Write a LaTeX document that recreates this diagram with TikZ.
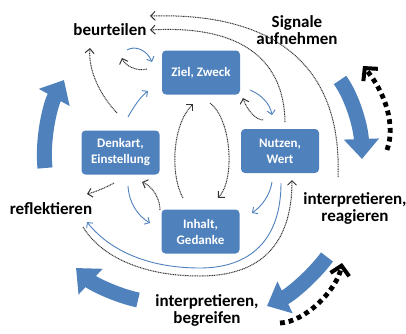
\documentclass[tikz,border=0pt]{standalone}
\usepackage{fontspec}
\setmainfont{Carlito}
\usetikzlibrary{arrows.meta}
\definecolor{boxblue}{RGB}{79,129,189}
\begin{document}
\begin{tikzpicture}[x=1pt,y=-1pt,
  box/.style={fill=boxblue, rounded corners=4pt, minimum width=78pt, minimum height=44pt, text=white, font=\fontsize{13}{16}\selectfont\bfseries, align=center, inner sep=1pt},
  lbl/.style={font=\fontsize{17}{17}\selectfont\bfseries, align=center, text=black, inner sep=0pt},
  bigarrow/.style={draw=boxblue, line width=15pt, -{Triangle[width=34pt,length=20pt]}},
  bluearr/.style={draw=boxblue, line width=0.9pt, -{Straight Barb[length=4pt,width=8pt]}},
  dotarr/.style={draw=black!80, line width=1pt, dash pattern=on 1pt off 0.7pt, -{Straight Barb[length=4.5pt,width=9pt]}},
  thickdot/.style={draw=black, line width=4.8pt, dash pattern=on 4.8pt off 4pt, -{Straight Barb[length=9pt,width=19pt,line width=4pt]}}
]
\useasboundingbox (0,0) rectangle (406,333);
% boxes
\node[box] (ziel) at (201,72.5) {Ziel, Zweck};
\node[box] (nutzen) at (280,151) {Nutzen,\\Wert};
\node[box] (denk) at (120.5,152.5) {Denkart,\\Einstellung};
\node[box] (inhalt) at (200.5,231.5) {Inhalt,\\Gedanke};
% labels
\node[lbl] (beur) at (110,30) {beurteilen};
\node[lbl] (sig) at (297,30) {Signale\\aufnehmen};
\node[lbl] (refl) at (51,209) {reflektieren};
\node[lbl] (reag) at (355,208) {interpretieren,\\reagieren};
\node[lbl] (begr) at (207,310) {interpretieren,\\begreifen};
% big blue arrows
\coordinate (bl1s) at (45,168); \coordinate (bl1e) at (64,80);
\coordinate (bl2s) at (340,80); \coordinate (bl2e) at (362,159);
\coordinate (bl3s) at (327,257); \coordinate (bl3e) at (267,306);
\coordinate (bl4s) at (138,300); \coordinate (bl4e) at (76,268);
\draw[bigarrow] (bl1s) .. controls (42,140) and (50,105) .. (bl1e);
\draw[bigarrow] (bl2s) .. controls (353,98) and (361,128) .. (bl2e);
\draw[bigarrow] (bl3s) .. controls (312,277) and (290,295) .. (bl3e);
\draw[bigarrow] (bl4s) .. controls (115,295) and (92,283) .. (bl4e);
% thick dotted black arrows
\coordinate (td1s) at (387,150); \coordinate (td1e) at (363,66);
\coordinate (td2s) at (280,323); \coordinate (td2e) at (342,263);
\draw[thickdot] (td1s) .. controls (396,125) and (385,92) .. (td1e);
\draw[thickdot] (td2s) .. controls (305,322) and (337,290) .. (td2e);
% long dotted to beurteilen
\coordinate (o1s) at (338,177); \coordinate (o1e) at (150,16);
\coordinate (i1s) at (285,122); \coordinate (i1e) at (150,30);
\draw[dotarr] (o1s) .. controls (342,70) and (280,12) .. (o1e);
\draw[dotarr] (i1s) .. controls (284,55) and (235,25) .. (i1e);
% Denkart -> beurteilen
\coordinate (a1s) at (117,113); \coordinate (a1e) at (90,48);
\draw[dotarr] (a1s) .. controls (100,95) and (88,70) .. (a1e);
% beurteilen <-> Ziel
\coordinate (a2s) at (127,50); \coordinate (a2e) at (152,62);
\draw[bluearr] (a2s) .. controls (135,45) and (147,50) .. (a2e);
\coordinate (a3s) at (147,69); \coordinate (a3e) at (122,58);
\draw[dotarr] (a3s) .. controls (138,72) and (125,66) .. (a3e);
% Denkart -> Ziel
\coordinate (a4s) at (128,117); \coordinate (a4e) at (148,91);
\draw[bluearr] (a4s) .. controls (133,108) and (140,97) .. (a4e);
% Ziel <-> Nutzen
\coordinate (a5s) at (250,90); \coordinate (a5e) at (272,115);
\draw[bluearr] (a5s) .. controls (262,95) and (270,104) .. (a5e);
\coordinate (a6s) at (263,120); \coordinate (a6e) at (243,98);
\draw[dotarr] (a6s) .. controls (255,120) and (246,108) .. (a6e);
% Ziel <-> Inhalt
\coordinate (a7s) at (183,198); \coordinate (a7e) at (193,104);
\draw[dotarr] (a7s) .. controls (170,175) and (172,125) .. (a7e);
\coordinate (a8s) at (210,103); \coordinate (a8e) at (218,198);
\draw[dotarr] (a8s) .. controls (232,120) and (235,180) .. (a8e);
% Nutzen -> Inhalt
\coordinate (a9s) at (272,182); \coordinate (a9e) at (252,213);
\draw[bluearr] (a9s) .. controls (270,195) and (262,206) .. (a9e);
% long blue Nutzen -> reflektieren
\coordinate (a10s) at (281,183); \coordinate (a10m) at (200,268); \coordinate (a10e) at (87,222);
\draw[bluearr] (a10s) .. controls (281,240) and (250,268) .. (a10m) .. controls (140,268) and (105,245) .. (a10e);
% long dotted reflektieren -> Nutzen
\coordinate (a11s) at (83,227); \coordinate (a11m) at (200,276); \coordinate (a11e) at (292,180);
\draw[dotarr] (a11s) .. controls (100,255) and (140,276) .. (a11m) .. controls (260,276) and (292,245) .. (a11e);
% Denkart <-> Inhalt
\coordinate (a12s) at (128,186); \coordinate (a12e) at (150,223);
\draw[bluearr] (a12s) .. controls (129,203) and (138,216) .. (a12e);
\coordinate (a13s) at (160,210); \coordinate (a13e) at (142,182);
\draw[dotarr] (a13s) .. controls (160,198) and (152,186) .. (a13e);
% Denkart -> reflektieren
\coordinate (a14s) at (114,183); \coordinate (a14e) at (87,194);
\draw[dotarr] (a14s) .. controls (105,188) and (95,192) .. (a14e);
\end{tikzpicture}
\end{document}
